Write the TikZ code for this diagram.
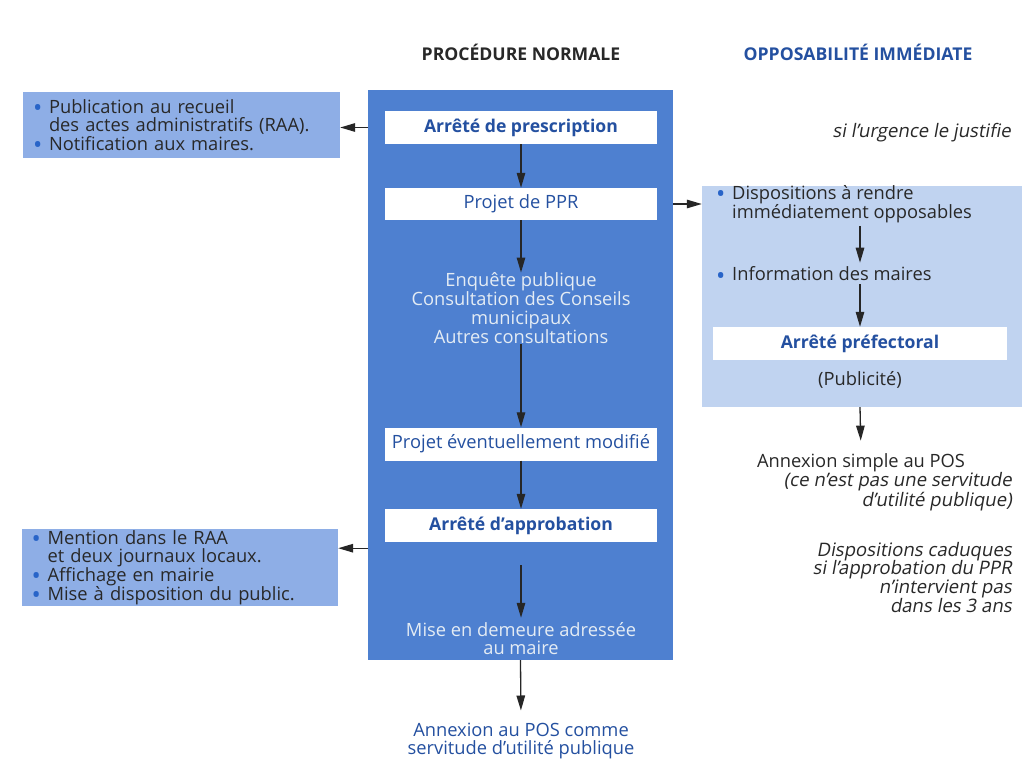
\documentclass[tikz,border=0pt]{standalone}
\usepackage{fontspec}
\setmainfont{Open Sans}
\newfontfamily\oblique[FakeSlant=0.18]{Open Sans}
\usetikzlibrary{arrows.meta}
\definecolor{mainblue}{RGB}{78,128,208}
\definecolor{lightblue}{RGB}{142,174,230}
\definecolor{paleblue}{RGB}{192,211,240}
\definecolor{darkblue}{RGB}{36,80,160}
\definecolor{textwhite}{RGB}{228,236,244}
\definecolor{bulletblue}{RGB}{40,100,200}
\definecolor{inkgray}{RGB}{40,40,40}
\newcommand{\bul}{\makebox[16pt][l]{\textcolor{bulletblue}{\raisebox{-0.32ex}[0pt][0pt]{\scalebox{1.35}{\textbullet}}}}}
\newcommand{\bulind}{\hspace*{16pt}}
\begin{document}
\begin{tikzpicture}[x=1pt,y=-1pt,
  every node/.style={font=\fontsize{18.3}{18.8}\selectfont, inner sep=0pt, text=inkgray},
  boldtext/.style={font=\fontsize{17.6}{18.5}\selectfont\bfseries},
  obltext/.style={font=\fontsize{18.6}{18.6}\selectfont\oblique},
  mainbox/.style={fill=mainblue, draw=none},
  whitebox/.style={fill=white, draw=none, minimum width=272pt, minimum height=33pt, text=darkblue},
  lbox/.style={fill=lightblue, draw=none, align=left},
  rbox/.style={fill=paleblue, draw=none},
  header/.style={font=\fontsize{17.6}{18}\selectfont\bfseries},
  arr/.style={-{Triangle[length=15pt,width=8.5pt]}, line width=1.3pt, draw=black!85}
]
\useasboundingbox (0,0) rectangle (1024,760);
\fill[white] (0,0) rectangle (1024,760);

% headers
\node[header] (h1) at (521,52) {PROCÉDURE NORMALE};
\node[header, text=darkblue] (h2) at (858,52) {OPPOSABILITÉ IMMÉDIATE};

% main column
\node[mainbox, minimum width=305pt, minimum height=570pt] (main) at (520.5,375) {};
\node[whitebox, boldtext] (presc) at (521,127.5) {Arrêté de prescription};
\node[whitebox, minimum height=32pt] (ppr) at (521,204) {Projet de PPR};
\node[text=textwhite, align=center] (enq) at (521,308) {Enquête publique\\Consultation des Conseils\\municipaux\\Autres consultations};
\node[whitebox] (modif) at (521,444) {Projet éventuellement modifié};
\node[whitebox, boldtext] (appro) at (521,525.5) {Arrêté d’approbation};
\node[text=textwhite, align=center] (mise) at (521,638.5) {Mise en demeure adressée\\au maire};
\node[text=darkblue, align=center] (annex) at (521,741) {Annexion au POS comme\\servitude d’utilité publique};

\draw[arr] (presc) -- (ppr);
\draw[arr] (ppr) -- (enq.north);
\draw[arr] (enq) -- (modif);
\draw[arr] (modif) -- (appro);
\draw[arr, shorten >=4pt] ([yshift=-23pt]appro.south) -- (mise.north);
\draw[arr, shorten >=12pt] (main.south) -- (annex.north);

% left boxes
\node[lbox, minimum width=317pt, minimum height=66pt, text width=297pt] (lb1) at (181.5,125)
  {\bul Publication au recueil\\\bulind des actes administratifs (RAA).\\\bul Notification aux maires.};
\node[lbox, minimum width=316pt, minimum height=77pt, text width=297pt] (lb2) at (180,567.5)
  {\bul Mention dans le RAA\\\bulind et deux journaux locaux.\\\bul Affichage en mairie\\\bul Mise à disposition du public.};

\draw[arr] (main.west |- presc.west) -- (lb1.east |- presc.west);
\draw[arr] ([yshift=-6pt]appro.south -| main.west) -- ([yshift=-6pt]appro.south -| lb2.east);

% right column
\node[obltext, anchor=east] (urg) at (1011,133) {si l’urgence le justifie};
\node[rbox, minimum width=320pt, minimum height=221pt] (rb) at (862,296.5) {};
\node[anchor=west, align=left] (disp) at (716,204) {\bul Dispositions à rendre\\\bulind immédiatement opposables};
\node[anchor=west] (info) at (716,274) {\bul Information des maires};
\node[whitebox, minimum width=294pt, boldtext] (pref) at (860,343.5) {Arrêté préfectoral};
\node (pub) at (860,380) {(Publicité)};
\node (annexs) at (861,463) {Annexion simple au POS};
\node[anchor=north east, align=right, obltext] (cesup) at (1012,472) {(ce n’est pas une servitude\\d’utilité publique)};
\node[anchor=north east, align=right, obltext] (cad) at (1012,542) {Dispositions caduques\\si l’approbation du PPR\\n’intervient pas\\dans les 3 ans};

\draw[arr] (ppr.east -| main.east) -- (ppr.east -| rb.west);
\draw[arr, shorten <=3pt, shorten >=4pt] (disp.south -| pref.north) -- (info.north -| pref.north);
\draw[arr, shorten <=3pt] (info.south -| pref.north) -- (pref.north);
\draw[arr, shorten >=13pt] (rb.south -| pref.south) -- (annexs.north);
\end{tikzpicture}
\end{document}
